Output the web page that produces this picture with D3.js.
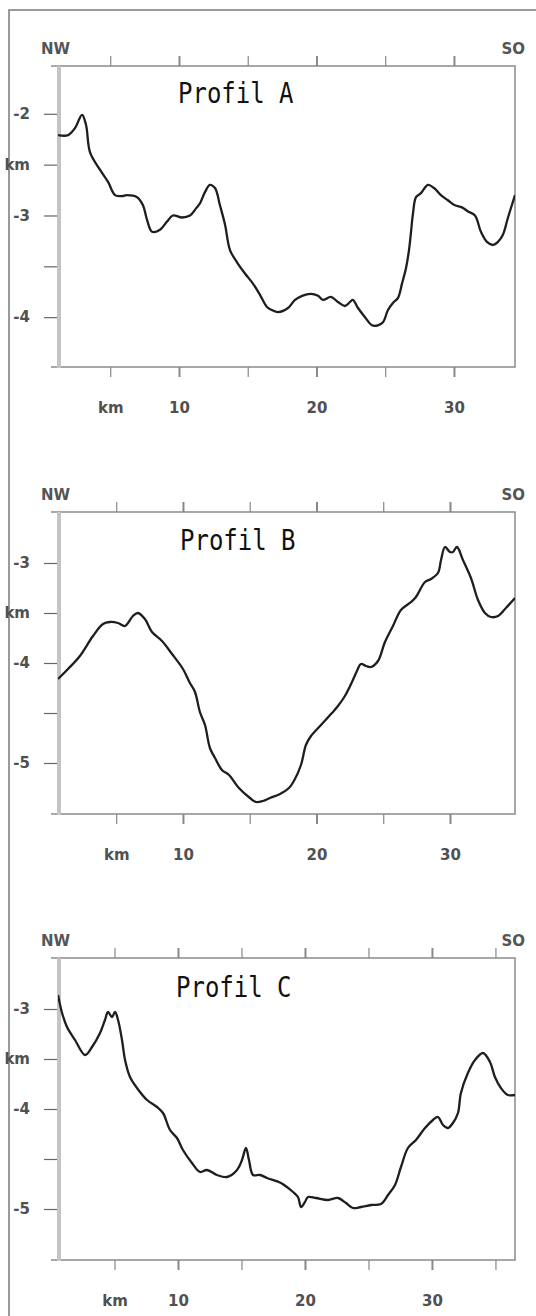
<!DOCTYPE html>
<html>
<head>
<meta charset="utf-8">
<script src="https://cdn.jsdelivr.net/npm/d3@7/dist/d3.min.js"></script>
<style>
  body { margin: 0; background: #fff; }
  svg { display: block; }
</style>
</head>
<body>
<svg class="profiles" width="536" height="1316"></svg>
<script>
(function () {
    'use strict';

    // Profil A: distance (km) and depth (km)
    var kmA = [1.2, 1.93, 2.44, 2.95, 3.24, 3.53, 4.25, 4.84, 5.35, 5.85, 6.22, 6.95, 7.38, 7.67, 8.04, 8.62, 9.13, 9.56,
        10.22, 10.8, 11.24, 11.53, 11.89, 12.25, 12.62, 12.98, 13.35, 13.71, 14.22, 14.8, 15.38, 15.89, 16.4, 16.76,
        17.2, 17.93, 18.44, 18.95, 19.6, 20.11, 20.47, 21.05, 21.56, 22.07, 22.44, 22.65, 23.02, 23.53, 24.04, 24.47,
        24.84, 25.2, 25.56, 25.93, 26.22, 26.51, 26.73, 26.87, 27.02, 27.24, 27.6, 28.11, 28.55, 29.05, 29.56, 30.07,
        30.58, 31.02, 31.53, 31.96, 32.4, 32.84, 33.2, 33.56, 33.93, 34.44];
    var depthA = [-2.21, -2.21, -2.14, -2.01, -2.11, -2.38, -2.55, -2.67, -2.8, -2.81, -2.8, -2.82, -2.9, -3.04, -3.16, -3.14, -3.06, -3.0,
        -3.02, -3.0, -2.93, -2.88, -2.77, -2.7, -2.73, -2.9, -3.09, -3.34, -3.46, -3.57, -3.67, -3.78, -3.9, -3.93,
        -3.95, -3.91, -3.83, -3.79, -3.77, -3.79, -3.83, -3.8, -3.85, -3.89, -3.85, -3.83, -3.91, -4.0, -4.08, -4.08,
        -4.05, -3.93, -3.86, -3.81, -3.67, -3.52, -3.34, -3.17, -2.98, -2.82, -2.78, -2.7, -2.73, -2.8, -2.85, -2.9,
        -2.92, -2.96, -3.0, -3.16, -3.26, -3.29, -3.26, -3.19, -3.02, -2.8];

    // Profil B
    var kmB = [0.64, 1.39, 2.28, 3.26, 4.01, 4.53, 5.13, 5.66, 6.25, 6.63, 7.15, 7.68, 8.43, 9.18, 10.0, 10.52, 10.9, 11.27,
        11.65, 12.02, 12.4, 12.92, 13.45, 14.19, 15.02, 15.47, 15.99, 16.52, 17.27, 17.94, 18.31, 18.84, 19.21, 19.59,
        20.34, 21.16, 21.61, 22.13, 22.66, 23.03, 23.33, 23.71, 24.08, 24.61, 25.13, 25.73, 26.33, 27.08, 27.45, 28.13,
        28.58, 29.1, 29.33, 29.63, 30.0, 30.22, 30.52, 30.97, 31.57, 32.1, 32.62, 33.07, 33.6, 34.19, 34.87];
    var depthB = [-4.16, -4.06, -3.93, -3.73, -3.61, -3.59, -3.6, -3.63, -3.53, -3.5, -3.56, -3.69, -3.78, -3.91, -4.06, -4.2, -4.29, -4.49,
        -4.62, -4.85, -4.95, -5.07, -5.12, -5.25, -5.35, -5.39, -5.38, -5.35, -5.31, -5.25, -5.18, -5.02, -4.82, -4.73,
        -4.62, -4.5, -4.43, -4.33, -4.19, -4.08, -4.01, -4.03, -4.04, -3.98, -3.79, -3.63, -3.47, -3.39, -3.34, -3.19,
        -3.16, -3.1, -2.97, -2.84, -2.89, -2.89, -2.84, -2.97, -3.15, -3.37, -3.5, -3.54, -3.53, -3.45, -3.35];

    // Profil C
    var kmC = [0.55, 0.87, 1.26, 1.89, 2.68, 3.23, 3.86, 4.25, 4.49, 4.8, 5.04, 5.28, 5.59, 5.83, 6.22, 6.77, 7.56, 8.35, 8.82,
        9.37, 9.92, 10.39, 11.1, 11.73, 12.28, 13.07, 13.86, 14.65, 15.04, 15.35, 15.59, 15.91, 16.46, 17.01, 18.11,
        19.06, 19.45, 19.69, 20.0, 20.24, 20.87, 21.81, 22.6, 23.23, 23.78, 24.41, 25.2, 25.98, 26.54, 27.09, 27.56,
        28.11, 28.74, 29.45, 30.08, 30.47, 30.87, 31.26, 31.65, 32.05, 32.28, 32.83, 33.39, 34.02, 34.57, 34.96, 35.43,
        35.98, 36.54];
    var depthC = [-2.86, -3.04, -3.18, -3.31, -3.46, -3.38, -3.24, -3.11, -3.03, -3.08, -3.03, -3.11, -3.31, -3.51, -3.68, -3.79, -3.91, -3.98, -4.04,
        -4.21, -4.29, -4.41, -4.54, -4.63, -4.61, -4.66, -4.68, -4.61, -4.51, -4.39, -4.51, -4.66, -4.66, -4.69, -4.74,
        -4.83, -4.88, -4.98, -4.93, -4.88, -4.89, -4.91, -4.89, -4.94, -4.99, -4.98, -4.96, -4.95, -4.86, -4.76, -4.58,
        -4.39, -4.31, -4.19, -4.11, -4.08, -4.16, -4.19, -4.14, -4.04, -3.84, -3.64, -3.51, -3.44, -3.53, -3.68, -3.79,
        -3.86, -3.86];

    var titles = ['Profil A', 'Profil B', 'Profil C'];
    var xTicksAB = [5, 10, 15, 20, 25, 30];
    var xTicksC = [5, 10, 15, 20, 25, 30, 35];
    var xTickLabels = {5: 'km', 10: '10', 20: '20', 30: '30'};
    var yTicksA = [-4, -3.5, -3, -2.5, -2];
    var yTicksBC = [-5, -4.5, -4, -3.5, -3];
    var yTickLabelsA = {'-2': '-2', '-2.5': 'km', '-3': '-3', '-4': '-4'};
    var yTickLabelsBC = {'-3': '-3', '-3.5': 'km', '-4': '-4', '-5': '-5'};

    // panel boxes in pixels plus the axis extents
    var panels = [
        {km: kmA, depth: depthA, top: 66, bottom: 367, x0: 1.2, x1: 34.44, y0: -4.49, y1: -1.53,
            xTicks: xTicksAB, yTicks: yTicksA, yLabels: yTickLabelsA, titleX: 178, titleY: 103},
        {km: kmB, depth: depthB, top: 512, bottom: 814, x0: 0.64, x1: 34.87, y0: -5.51, y1: -2.49,
            xTicks: xTicksAB, yTicks: yTicksBC, yLabels: yTickLabelsBC, titleX: 180, titleY: 550},
        {km: kmC, depth: depthC, top: 958, bottom: 1260, x0: 0.55, x1: 36.54, y0: -5.51, y1: -2.49,
            xTicks: xTicksC, yTicks: yTicksBC, yLabels: yTickLabelsBC, titleX: 176, titleY: 997}
    ];
    var left = 58, right = 515;

    var svg = d3.select('.profiles');

    // outer frame (only left and top edges show on the scan)
    svg.append('path')
        .attr('d', 'M9,1316 L9,10 L536,10')
        .attr('fill', 'none')
        .attr('stroke', '#7a7a7a')
        .attr('stroke-width', 1.5);

    panels.forEach(function (p, i) {
        var x = d3.scaleLinear().domain([p.x0, p.x1]).range([left, right]);
        var y = d3.scaleLinear().domain([p.y0, p.y1]).range([p.bottom, p.top]);
        var g = svg.append('g');

        g.append('clipPath').attr('id', 'clip' + i)
            .append('rect')
            .attr('x', left).attr('y', p.top)
            .attr('width', right - left).attr('height', p.bottom - p.top);

        // top, right, bottom lines
        g.append('path')
            .attr('d', 'M' + (left - 7) + ',' + p.top + ' L' + right + ',' + p.top +
                ' L' + right + ',' + p.bottom + ' L' + (left - 7) + ',' + p.bottom)
            .attr('fill', 'none')
            .attr('stroke', '#8a8a8a')
            .attr('stroke-width', 1.5);

        var fmtX = function (d) { return xTickLabels[d] || ''; };

        var top = g.append('g')
            .attr('transform', 'translate(0,' + p.top + ')')
            .call(d3.axisTop(x).tickValues(p.xTicks).tickSize(10).tickFormat(''));
        var bottom = g.append('g')
            .attr('transform', 'translate(0,' + p.bottom + ')')
            .call(d3.axisBottom(x).tickValues(p.xTicks).tickSize(10).tickPadding(25).tickFormat(fmtX));
        var leftAx = g.append('g')
            .attr('transform', 'translate(' + left + ',0)')
            .call(d3.axisLeft(y).tickValues(p.yTicks).tickSize(14).tickPadding(14)
                .tickFormat(function (d) { return p.yLabels[String(d)] || ''; }));

        [top, bottom, leftAx].forEach(function (ax) {
            ax.select('.domain').remove();
            ax.selectAll('.tick line').attr('stroke', '#666').attr('stroke-width', 1.2);
            ax.selectAll('.tick text')
                .attr('fill', '#505050')
                .style('font-family', '"DejaVu Sans", sans-serif')
                .style('font-weight', 'bold')
                .style('font-size', '15px');
        });
        bottom.selectAll('.tick line')
            .attr('stroke', '#888')
            .attr('stroke-width', function (d) { return d % 10 === 0 ? 2 : 1.2; });
        top.selectAll('.tick line')
            .attr('stroke', '#888')
            .attr('stroke-width', function (d) { return d % 10 === 0 ? 2 : 1.2; });

        // thick light left spine
        g.append('line')
            .attr('x1', left + 1).attr('x2', left + 1)
            .attr('y1', p.top).attr('y2', p.bottom + 1)
            .attr('stroke', '#c4c4c4')
            .attr('stroke-width', 4);

        // NW / SO
        g.append('text')
            .attr('x', 41).attr('y', p.top - 12)
            .text('NW')
            .attr('fill', '#555')
            .style('font-family', '"DejaVu Sans", sans-serif')
            .style('font-weight', 'bold')
            .style('font-size', '15px');
        g.append('text')
            .attr('x', 525).attr('y', p.top - 12)
            .attr('text-anchor', 'end')
            .text('SO')
            .attr('fill', '#555')
            .style('font-family', '"DejaVu Sans", sans-serif')
            .style('font-weight', 'bold')
            .style('font-size', '15px');

        // title
        g.append('text')
            .attr('transform', 'translate(' + p.titleX + ',' + p.titleY + ') scale(1,1.18)')
            .text(titles[i])
            .attr('fill', '#111')
            .style('font-family', '"DejaVu Sans Mono", monospace')
            .style('font-size', '24px');

        var line = d3.line()
            .x(function (d) { return x(d[0]); })
            .y(function (d) { return y(d[1]); })
            .curve(d3.curveCatmullRom.alpha(0.5));

        g.append('path')
            .datum(d3.zip(p.km, p.depth))
            .attr('clip-path', 'url(#clip' + i + ')')
            .attr('d', line)
            .attr('fill', 'none')
            .attr('stroke', '#1e1e1e')
            .attr('stroke-width', 2.3)
            .attr('stroke-linejoin', 'round');
    });
})();
</script>
</body>
</html>
